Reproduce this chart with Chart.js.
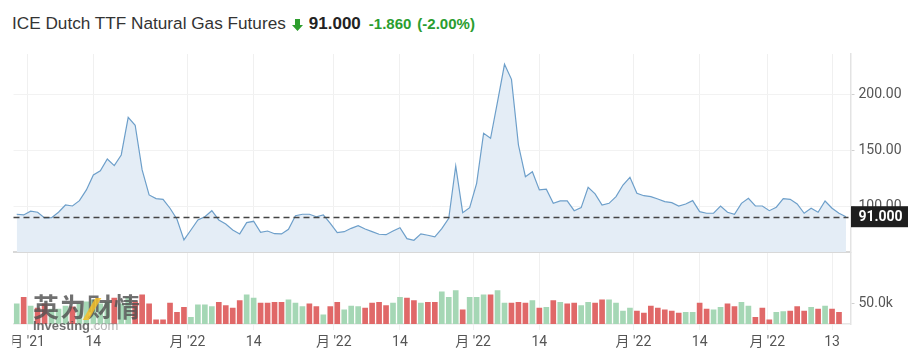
<!DOCTYPE html>
<html><head><meta charset="utf-8">
<script src="https://cdn.jsdelivr.net/npm/chart.js@4.4.1/dist/chart.umd.min.js"></script>
<style>
html,body{margin:0;padding:0;background:#fff;width:921px;height:364px;overflow:hidden;}
#wrap{position:relative;width:921px;height:364px;}
#c1{position:absolute;left:0;top:40px;}
#c2{position:absolute;left:0;top:252px;}
#title{position:absolute;left:12px;top:13px;line-height:20px;white-space:nowrap;font-family:'Liberation Sans',Arial,sans-serif;color:#333;display:flex;align-items:baseline;}
#title .name{font-size:17.2px;}
#title .arrow{display:inline-block;width:11px;height:12px;margin-left:6px;margin-right:6px;align-self:center;position:relative;top:1px;}
#title .price{font-size:17px;font-weight:bold;color:#222;}
#title .chg{font-size:15px;font-weight:bold;color:#2a9d2f;margin-left:8px;}
#title .pct{font-size:15px;font-weight:bold;color:#2a9d2f;margin-left:6px;}
#wm{position:absolute;left:33px;top:292px;pointer-events:none;}
#wm .cn{font:bold 26px 'Noto Sans CJK SC',sans-serif;color:rgba(80,80,80,0.82);line-height:28px;letter-spacing:1px;}
#wm .en{font:bold 13px 'Liberation Sans',Arial,sans-serif;color:rgba(80,80,80,0.82);line-height:13px;margin-top:-1px;}
#wm .en span{font-weight:normal;color:rgba(130,130,130,0.6);}
#wm .slash{position:absolute;left:56px;top:6px;width:6px;height:22px;background:rgba(245,190,40,0.85);transform:skewX(-30deg);}
</style>
</head>
<body>
<div id="wrap">
  <div id="title">
    <span class="name">ICE Dutch TTF Natural Gas Futures</span>
    <svg class="arrow" viewBox="0 0 11 12"><path d="M3 0 H8 V6 H11 L5.5 12 L0 6 H3 Z" fill="#2e9e2e"/></svg>
    <span class="price">91.000</span>
    <span class="chg">-1.860</span>
    <span class="pct">(-2.00%)</span>
  </div>
  <canvas id="c1" width="921" height="213"></canvas>
  <canvas id="c2" width="921" height="112"></canvas>
  <div id="wm"><div class="slash"></div><div class="cn">英为财情</div><div class="en">Investing<span>.com</span></div></div>
</div>
<script>
// ---- data ----
const tickIndex = [1.5, 11, 24.5, 34, 45.5, 55, 65.5, 75, 88.5, 98, 107.7, 117];
const tickLabels = ["月 '21", "14", "月 '22", "14", "月 '22", "14", "月 '22", "14", "月 '22", "14", "月 '22", "13"];

const prices = [
  93.2, 92.6, 95.9, 95.0, 89.9, 90.2, 95.0, 101.5, 100.6, 105.4,
  115.0, 128.4, 132.2, 142.7, 136.7, 146.3, 180.0, 172.9, 132.9, 110.5,
  107.2, 106.6, 98.6, 88.7, 70.2, 79.1, 88.1, 91.0, 96.4, 88.1,
  84.5, 79.1, 75.6, 85.7, 86.9, 77.1, 78.2, 75.8, 75.6, 79.8,
  91.9, 93.2, 93.2, 91.0, 92.6, 85.1, 76.7, 77.6, 80.6, 83.0,
  80.0, 77.6, 75.3, 74.9, 78.2, 81.2, 71.4, 69.9, 75.6, 74.4,
  72.9, 80.3, 89.6, 136.4, 94.6, 99.1, 120.9, 165.7, 161.2, 194.0,
  227.5, 214.0, 155.2, 126.9, 131.3, 115.0, 115.6, 103.0, 105.1, 105.1,
  96.4, 99.1, 117.4, 111.4, 101.5, 103.0, 109.0, 119.4, 126.3, 112.0,
  109.8, 109.0, 106.9, 104.5, 103.6, 100.6, 102.4, 105.4, 95.5, 94.1,
  94.1, 100.6, 95.0, 93.2, 103.0, 107.5, 100.6, 100.6, 96.4, 99.5,
  107.2, 106.6, 102.4, 94.1, 98.6, 95.0, 105.1, 98.6, 94.1, 91.0
];

// volume in thousands (k)
const volumesK = [
  48, 64, 43, 38, 48, 36, 36, 43, 41, 48,
  53, 58, 48, 53, 62, 48, 63, 53, 70, 48,
  10, 10, 50, 28, 40, 16, 46, 46, 42, 52,
  44, 38, 56, 70, 62, 50, 50, 52, 52, 58,
  50, 42, 48, 42, 22, 42, 52, 34, 43, 42,
  38, 50, 52, 44, 50, 64, 62, 56, 50, 52,
  52, 77, 64, 80, 34, 64, 64, 70, 70, 80,
  50, 50, 52, 50, 56, 38, 40, 56, 52, 48,
  50, 44, 52, 50, 58, 58, 50, 31, 38, 31,
  26, 43, 38, 34, 31, 26, 28, 28, 50, 36,
  34, 40, 48, 42, 52, 43, 16, 38, 10, 28,
  30, 31, 42, 31, 40, 36, 43, 36, 28, null
];
// 1 = up day (green), 0 = down day (red)
const volumeUp = [
  1, 0, 1, 0, 0, 1, 1, 1, 0, 1,
  1, 1, 1, 1, 0, 1, 1, 0, 0, 0,
  0, 0, 0, 0, 0, 1, 1, 1, 1, 0,
  0, 0, 0, 1, 1, 0, 0, 0, 0, 1,
  1, 1, 0, 0, 1, 0, 0, 1, 1, 1,
  0, 0, 0, 0, 1, 1, 0, 0, 1, 0,
  0, 1, 1, 1, 0, 1, 1, 1, 0, 1,
  1, 0, 0, 0, 1, 0, 1, 0, 1, 0,
  0, 1, 1, 0, 0, 1, 1, 1, 1, 0,
  0, 0, 0, 0, 0, 0, 1, 1, 0, 0,
  1, 1, 0, 0, 1, 1, 0, 0, 0, 1,
  1, 0, 0, 0, 1, 0, 1, 0, 0, 0
];
const priceTicks = [100, 150, 200];
const volumeTicksK = [50];
const lastPrice = 91.0;

// ---- layout constants ----
const X_MIN = -0.46, X_MAX = 119.65;
const AXIS_W = 70.5;
const LEFT_PAD = 13.5;
const TICK_FONT = {family: "Roboto, 'Noto Sans CJK SC', sans-serif", size: 14};

function noPad(s) { s.paddingTop = 0; s.paddingBottom = 0; s.paddingLeft = 0; s.paddingRight = 0; }

const lastPricePlugin = {
  id: 'lastPrice',
  afterDatasetsDraw(chart) {
    const {ctx, chartArea} = chart;
    const y = Math.round(chart.scales.y.getPixelForValue(lastPrice)) + 0.5;
    ctx.save();
    ctx.strokeStyle = '#444';
    ctx.lineWidth = 1.3;
    ctx.setLineDash([6, 4]);
    ctx.beginPath();
    ctx.moveTo(chartArea.left, y);
    ctx.lineTo(chartArea.right - 2, y);
    ctx.stroke();
    ctx.restore();
  },
  afterDraw(chart) {
    const {ctx, chartArea} = chart;
    const y = chart.scales.y.getPixelForValue(lastPrice);
    const x0 = chartArea.right + 0.5, x1 = 908;
    ctx.save();
    ctx.fillStyle = '#1e1e1e';
    ctx.fillRect(x0, y - 10.5, x1 - x0, 21);
    ctx.fillStyle = '#fff';
    ctx.font = "bold 14px Roboto, sans-serif";
    ctx.textAlign = 'center';
    ctx.textBaseline = 'middle';
    ctx.fillText(lastPrice.toFixed(3), (x0 + x1) / 2 + 1, y + 0.5);
    ctx.restore();
  }
};

const clipPlugin = {
  id: 'clipLeft',
  afterDraw(chart) {
    const {ctx, chartArea} = chart;
    ctx.save();
    ctx.fillStyle = '#fff';
    ctx.fillRect(0, chartArea.bottom + 7, 12.5, 40);
    ctx.restore();
  }
};

new Chart(document.getElementById('c1'), {
  type: 'line',
  data: {
    datasets: [{
      data: prices.map((v, i) => ({x: i, y: v})),
      borderColor: '#6d9fca',
      borderWidth: 1.2,
      backgroundColor: '#e4edf6',
      fill: 'start',
      pointRadius: 0,
      tension: 0
    }]
  },
  options: {
    responsive: false, animation: false, devicePixelRatio: 1,
    layout: {padding: {left: LEFT_PAD, top: 14, right: 0, bottom: 1}},
    plugins: {legend: {display: false}, tooltip: {enabled: false}},
    scales: {
      x: {
        type: 'linear', min: X_MIN, max: X_MAX,
        afterBuildTicks: s => { s.ticks = tickIndex.map(v => ({value: v})); },
        ticks: {display: false},
        grid: {color: '#f0f0f0', drawTicks: false},
        border: {display: true, color: '#d8d8d8', width: 2},
        afterFit: s => { s.height = 0; noPad(s); }
      },
      y: {
        position: 'right', min: 59.4, max: 236.7,
        afterBuildTicks: s => { s.ticks = priceTicks.map(v => ({value: v})); },
        ticks: {callback: v => Number(v).toFixed(2), font: TICK_FONT, color: '#555', padding: 4},
        grid: {color: '#f2f2f2', tickColor: '#d0d0d0', tickLength: 4},
        border: {display: true, color: '#e3e3e3', width: 1.5},
        afterFit: s => { s.width = AXIS_W; noPad(s); }
      }
    }
  },
  plugins: [lastPricePlugin]
});

new Chart(document.getElementById('c2'), {
  type: 'bar',
  data: {
    datasets: [{
      data: volumesK.map((v, i) => ({x: i, y: v})),
      backgroundColor: volumeUp.map(u => u ? '#a5d7b5' : '#e06868'),
      barThickness: 5,
      borderWidth: 0
    }]
  },
  options: {
    responsive: false, animation: false, devicePixelRatio: 1,
    layout: {padding: {left: LEFT_PAD, top: 1, right: 0, bottom: 0}},
    plugins: {legend: {display: false}, tooltip: {enabled: false}},
    scales: {
      x: {
        type: 'linear', min: X_MIN, max: X_MAX, offset: false,
        afterBuildTicks: s => { s.ticks = tickIndex.map(v => ({value: v})); },
        ticks: {callback: (v, i) => tickLabels[i], autoSkip: false, maxRotation: 0, font: TICK_FONT, color: '#555', padding: 4},
        grid: {color: '#f0f0f0', tickLength: 6, offset: false},
        border: {display: true, color: '#e6e6e6', width: 1.5},
        afterFit: s => { s.height = 40; noPad(s); }
      },
      y: {
        position: 'right', min: 0, max: 170,
        afterBuildTicks: s => { s.ticks = volumeTicksK.map(v => ({value: v})); },
        ticks: {callback: v => Number(v).toFixed(1) + 'k', font: TICK_FONT, color: '#555', padding: 4},
        grid: {color: 'rgba(0,0,0,0)', tickColor: '#d0d0d0', tickLength: 4},
        border: {display: true, color: '#e3e3e3', width: 1.5},
        afterFit: s => { s.width = AXIS_W; noPad(s); }
      }
    }
  },
  plugins: [clipPlugin]
});
</script>
</body></html>
